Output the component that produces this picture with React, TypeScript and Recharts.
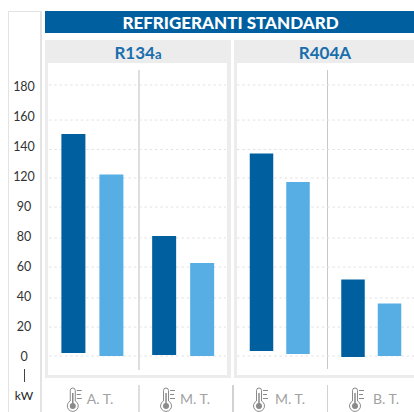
import React from "react";
import { BarChart, Bar, XAxis, YAxis, CartesianGrid } from "recharts";

const leftCategories = ["A. T.", "M. T."];
const rightCategories = ["M. T.", "B. T."];
const leftDarkValues: [number, number][] = [[2, 148], [0.7, 80]];
const leftLightValues: [number, number][] = [[0, 121], [0, 62]];
const rightDarkValues: [number, number][] = [[3.3, 135], [-0.7, 51]];
const rightLightValues: [number, number][] = [[1.3, 116], [0, 35]];
const tickValues = [0, 20, 40, 60, 80, 100, 120, 140, 160, 180];
const tickLabels = ["0", "20", "40", "60", "80", "90", "120", "140", "160", "180"];
const gridValues = [0, 19.3, 38.7, 59.3, 78.7, 99.3, 118.7, 137.7, 157.3, 180.7];

const DARK = "#00609f";
const LIGHT = "#56aee4";
const FONT = "Lato, sans-serif";

const toRows = (cats: string[], dark: [number, number][], light: [number, number][]) =>
  cats.map((name, i) => ({ name, dark: dark[i], light: light[i] }));

const leftRows = toRows(leftCategories, leftDarkValues, leftLightValues);
const rightRows = toRows(rightCategories, rightDarkValues, rightLightValues);

function ThermoTick(props: any) {
  const { x, payload, index, iconDx, textDx } = props;
  const ix = x + iconDx[index];
  const tx = x + textDx[index];
  const c = "#8a8a8a";
  return (
    <g>
      <path
        d={`M${ix - 2.5} 401 V390.5 a2.5 2.5 0 0 1 5 0 V401 a5.5 5.5 0 1 1 -5 0 Z`}
        fill="#fff"
        stroke={c}
        strokeWidth={1}
      />
      <line x1={ix} x2={ix} y1={393} y2={405} stroke={c} strokeWidth={1.5} />
      <circle cx={ix} cy={406} r={3} fill={c} />
      <line x1={ix + 4} x2={ix + 9} y1={390.5} y2={390.5} stroke={c} strokeWidth={1} />
      <line x1={ix + 4} x2={ix + 8} y1={394.5} y2={394.5} stroke={c} strokeWidth={1} />
      <line x1={ix + 4} x2={ix + 9} y1={398.5} y2={398.5} stroke={c} strokeWidth={1} />
      <text x={tx} y={404} fontFamily={FONT} fontSize={14} fill="#a2a2a2">
        {payload.value}
      </text>
    </g>
  );
}

function ValueTick(props: any) {
  const { y, payload } = props;
  const i = tickValues.indexOf(payload.value);
  return (
    <text x={24} y={y + 4.5} textAnchor="middle" fontFamily={FONT} fontSize={12.5} fill="#333">
      {tickLabels[i]}
    </text>
  );
}

function box(left: number, top: number, width: number, height: number, background: string, extra: React.CSSProperties = {}) {
  return <div style={{ position: "absolute", left, top, width, height, background, ...extra }} />;
}

export default function App() {
  return (
    <div style={{ position: "absolute", left: 0, top: 0, width: 414, height: 412, overflow: "hidden", background: "#fff", fontFamily: FONT }}>
      {/* left column frame */}
      <div style={{ position: "absolute", left: 8, top: 11, width: 31, height: 401, borderLeft: "1px solid #e3e3e3", borderRight: "2px solid #e3e3e3", borderTop: "1px solid #e3e3e3", boxSizing: "content-box" }} />
      {/* main header */}
      <div style={{ position: "absolute", left: 47, top: 11, width: 367, height: 22, background: "transparent", zIndex: 2, color: "#fff", fontWeight: 900, fontSize: 17, lineHeight: "23px", textAlign: "center", letterSpacing: 0 }}>
        REFRIGERANTI STANDARD
      </div>
      {box(45, 11, 369, 22, DARK)}
      {/* panels */}
      {box(45, 40, 186, 338, "#ececec")}
      {box(48, 63, 179, 312, "#fff")}
      {box(234, 40, 180, 338, "#ececec")}
      {box(237, 63, 177, 312, "#fff")}
      <div style={{ position: "absolute", left: 45, top: 40, width: 186, height: 23, color: "#1a6ead", fontWeight: 700, fontSize: 17, lineHeight: "26px", textAlign: "center" }}>
        R134<span style={{ fontSize: 13 }}>a</span>
      </div>
      <div style={{ position: "absolute", left: 235, top: 40, width: 180, height: 23, color: "#1a6ead", fontWeight: 700, fontSize: 17, lineHeight: "26px", textAlign: "center" }}>
        R404A
      </div>
      {/* dividers */}
      {box(138, 70, 2, 300, "#dedede")}
      {box(326.5, 70, 1.5, 299, "#c8c8c8")}
      {box(138, 385, 1.5, 27, "#dedede")}
      {box(232, 385, 1.5, 27, "#d2d2d2")}
      {box(326.5, 385, 1.5, 27, "#d2d2d2")}
      {/* unit */}
      {box(23.5, 369, 1, 13, "#444")}
      <div style={{ position: "absolute", left: 9, top: 389, width: 30, textAlign: "center", fontSize: 12, fontWeight: 400, color: "#222", lineHeight: "14px" }}>kW</div>

      <div style={{ position: "absolute", left: 0, top: 0 }}>
        <BarChart width={230} height={412} data={leftRows} margin={{ top: 56, right: 4, bottom: 0, left: 0 }} barSize={24} barGap={14} style={{ background: "transparent" }}>
          <CartesianGrid vertical={false} horizontalValues={gridValues} stroke="#e2e2e2" strokeDasharray="2.5 2.8" />
          <XAxis dataKey="name" height={26} axisLine={false} tickLine={false} interval={0} padding={{ left: -1.6, right: -2.9 }}
            tick={<ThermoTick iconDx={[-20, -17.5]} textDx={[-6, -3.5]} />} />
          <YAxis width={49} domain={[-20, 200]} ticks={tickValues} axisLine={false} tickLine={false} interval={0} tick={<ValueTick />} />
          <Bar dataKey="dark" fill={DARK} isAnimationActive={false} />
          <Bar dataKey="light" fill={LIGHT} isAnimationActive={false} />
        </BarChart>
      </div>
      <div style={{ position: "absolute", left: 230, top: 0 }}>
        <BarChart width={184} height={412} data={rightRows} margin={{ top: 56, right: 0, bottom: 0, left: 7 }} barSize={23.5} barGap={13} style={{ background: "transparent" }}>
          <CartesianGrid vertical={false} horizontalValues={gridValues} stroke="#e2e2e2" strokeDasharray="2.5 2.8" />
          <XAxis dataKey="name" height={26} axisLine={false} tickLine={false} interval={0} padding={{ left: -3.25, right: -2.75 }}
            tick={<ThermoTick iconDx={[-20.5, -16]} textDx={[-4.5, 2]} />} />
          <YAxis hide width={0} domain={[-20, 200]} ticks={tickValues} />
          <Bar dataKey="dark" fill={DARK} isAnimationActive={false} />
          <Bar dataKey="light" fill={LIGHT} isAnimationActive={false} />
        </BarChart>
      </div>
    </div>
  );
}
